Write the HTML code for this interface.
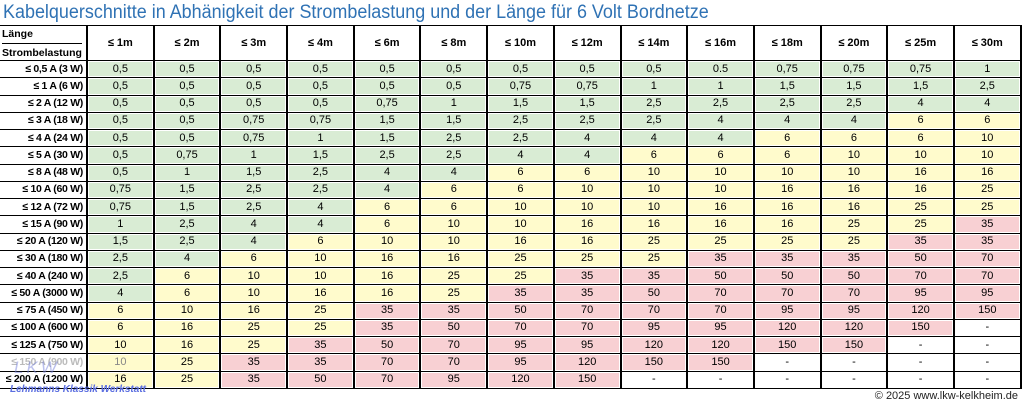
<!DOCTYPE html>
<html><head><meta charset="utf-8"><style>
body{margin:0;width:1024px;height:405px;background:#fff;position:relative;overflow:hidden;font-family:"Liberation Sans",Arial,sans-serif;}
.t{position:absolute;left:3px;top:2px;font-size:19px;color:#2f72b4;white-space:nowrap;transform-origin:0 0;transform:scaleX(0.945);}
table{position:absolute;left:0;top:25px;border-collapse:collapse;table-layout:fixed;width:1021px;}
td{border-top:1px solid #000;border-bottom:1px solid #000;border-left:2px solid #000;border-right:2px solid #000;height:16.26px;padding:0;text-align:center;font-size:11px;line-height:15px;color:#000;box-shadow:inset 0 0 0 1px #fff;white-space:nowrap;overflow:hidden;}
tr.h td{height:34px;font-weight:bold;}
td.l{text-align:right;font-weight:bold;padding-right:3px;border-left:none;font-size:10.5px;letter-spacing:-0.3px;}
.g{background:#d9ecd4}.y{background:#fffbcc}.r{background:#f8d0d3}
.hd{position:relative;text-align:left!important;}
.hd div{position:absolute;left:2px;font-size:10.5px;}
.cp{position:absolute;right:6px;top:390px;font-size:11px;color:#222;}
.wm{position:absolute;left:10px;top:384px;font-size:10px;font-style:italic;font-weight:bold;color:#5b6ee0;}
.wm2{position:absolute;left:14px;top:358px;font-size:17px;font-style:italic;color:rgba(120,130,220,.5);letter-spacing:3px;}
</style></head><body>
<div class="t">Kabelquerschnitte in Abhänigkeit der Strombelastung und der Länge für 6 Volt Bordnetze</div>
<table>
<colgroup><col style="width:87px"><col span="14" style="width:66.7px"></colgroup>
<tr class="h"><td class="hd" style="border-left:none"><div style="top:1px">Länge</div><div style="top:17px;border-top:1px solid #000;width:80px;padding-top:2px">Strombelastung</div></td><td>≤ 1m</td><td>≤ 2m</td><td>≤ 3m</td><td>≤ 4m</td><td>≤ 6m</td><td>≤ 8m</td><td>≤ 10m</td><td>≤ 12m</td><td>≤ 14m</td><td>≤ 16m</td><td>≤ 18m</td><td>≤ 20m</td><td>≤ 25m</td><td>≤ 30m</td></tr>
<tr><td class="l">≤ 0,5 A (3 W)</td><td class="g">0,5</td><td class="g">0,5</td><td class="g">0,5</td><td class="g">0,5</td><td class="g">0,5</td><td class="g">0,5</td><td class="g">0,5</td><td class="g">0,5</td><td class="g">0,5</td><td class="g">0.5</td><td class="g">0,75</td><td class="g">0,75</td><td class="g">0,75</td><td class="g">1</td></tr>
<tr><td class="l">≤ 1 A (6 W)</td><td class="g">0,5</td><td class="g">0,5</td><td class="g">0,5</td><td class="g">0,5</td><td class="g">0,5</td><td class="g">0,5</td><td class="g">0,75</td><td class="g">0,75</td><td class="g">1</td><td class="g">1</td><td class="g">1,5</td><td class="g">1,5</td><td class="g">1,5</td><td class="g">2,5</td></tr>
<tr><td class="l">≤ 2 A (12 W)</td><td class="g">0,5</td><td class="g">0,5</td><td class="g">0,5</td><td class="g">0,5</td><td class="g">0,75</td><td class="g">1</td><td class="g">1,5</td><td class="g">1,5</td><td class="g">2,5</td><td class="g">2,5</td><td class="g">2,5</td><td class="g">2,5</td><td class="g">4</td><td class="g">4</td></tr>
<tr><td class="l">≤ 3 A (18 W)</td><td class="g">0,5</td><td class="g">0,5</td><td class="g">0,75</td><td class="g">0,75</td><td class="g">1,5</td><td class="g">1,5</td><td class="g">2,5</td><td class="g">2,5</td><td class="g">2,5</td><td class="g">4</td><td class="g">4</td><td class="g">4</td><td class="y">6</td><td class="y">6</td></tr>
<tr><td class="l">≤ 4 A (24 W)</td><td class="g">0,5</td><td class="g">0,5</td><td class="g">0,75</td><td class="g">1</td><td class="g">1,5</td><td class="g">2,5</td><td class="g">2,5</td><td class="g">4</td><td class="g">4</td><td class="g">4</td><td class="y">6</td><td class="y">6</td><td class="y">6</td><td class="y">10</td></tr>
<tr><td class="l">≤ 5 A (30 W)</td><td class="g">0,5</td><td class="g">0,75</td><td class="g">1</td><td class="g">1,5</td><td class="g">2,5</td><td class="g">2,5</td><td class="g">4</td><td class="g">4</td><td class="y">6</td><td class="y">6</td><td class="y">6</td><td class="y">10</td><td class="y">10</td><td class="y">10</td></tr>
<tr><td class="l">≤ 8 A (48 W)</td><td class="g">0,5</td><td class="g">1</td><td class="g">1,5</td><td class="g">2,5</td><td class="g">4</td><td class="g">4</td><td class="y">6</td><td class="y">6</td><td class="y">10</td><td class="y">10</td><td class="y">10</td><td class="y">10</td><td class="y">16</td><td class="y">16</td></tr>
<tr><td class="l">≤ 10 A (60 W)</td><td class="g">0,75</td><td class="g">1,5</td><td class="g">2,5</td><td class="g">2,5</td><td class="g">4</td><td class="y">6</td><td class="y">6</td><td class="y">10</td><td class="y">10</td><td class="y">10</td><td class="y">16</td><td class="y">16</td><td class="y">16</td><td class="y">25</td></tr>
<tr><td class="l">≤ 12 A (72 W)</td><td class="g">0,75</td><td class="g">1,5</td><td class="g">2,5</td><td class="g">4</td><td class="y">6</td><td class="y">6</td><td class="y">10</td><td class="y">10</td><td class="y">10</td><td class="y">16</td><td class="y">16</td><td class="y">16</td><td class="y">25</td><td class="y">25</td></tr>
<tr><td class="l">≤ 15 A (90 W)</td><td class="g">1</td><td class="g">2,5</td><td class="g">4</td><td class="g">4</td><td class="y">6</td><td class="y">10</td><td class="y">10</td><td class="y">16</td><td class="y">16</td><td class="y">16</td><td class="y">16</td><td class="y">25</td><td class="y">25</td><td class="r">35</td></tr>
<tr><td class="l">≤ 20 A (120 W)</td><td class="g">1,5</td><td class="g">2,5</td><td class="g">4</td><td class="y">6</td><td class="y">10</td><td class="y">10</td><td class="y">16</td><td class="y">16</td><td class="y">25</td><td class="y">25</td><td class="y">25</td><td class="y">25</td><td class="r">35</td><td class="r">35</td></tr>
<tr><td class="l">≤ 30 A (180 W)</td><td class="g">2,5</td><td class="g">4</td><td class="y">6</td><td class="y">10</td><td class="y">16</td><td class="y">16</td><td class="y">25</td><td class="y">25</td><td class="y">25</td><td class="r">35</td><td class="r">35</td><td class="r">35</td><td class="r">50</td><td class="r">70</td></tr>
<tr><td class="l">≤ 40 A (240 W)</td><td class="g">2,5</td><td class="y">6</td><td class="y">10</td><td class="y">10</td><td class="y">16</td><td class="y">25</td><td class="y">25</td><td class="r">35</td><td class="r">35</td><td class="r">50</td><td class="r">50</td><td class="r">50</td><td class="r">70</td><td class="r">70</td></tr>
<tr><td class="l">≤ 50 A (3000 W)</td><td class="g">4</td><td class="y">6</td><td class="y">10</td><td class="y">16</td><td class="y">16</td><td class="y">25</td><td class="r">35</td><td class="r">35</td><td class="r">50</td><td class="r">70</td><td class="r">70</td><td class="r">70</td><td class="r">95</td><td class="r">95</td></tr>
<tr><td class="l">≤ 75 A (450 W)</td><td class="y">6</td><td class="y">10</td><td class="y">16</td><td class="y">25</td><td class="r">35</td><td class="r">35</td><td class="r">50</td><td class="r">70</td><td class="r">70</td><td class="r">70</td><td class="r">95</td><td class="r">95</td><td class="r">120</td><td class="r">150</td></tr>
<tr><td class="l">≤ 100 A (600 W)</td><td class="y">6</td><td class="y">16</td><td class="y">25</td><td class="y">25</td><td class="r">35</td><td class="r">50</td><td class="r">70</td><td class="r">70</td><td class="r">95</td><td class="r">95</td><td class="r">120</td><td class="r">120</td><td class="r">150</td><td>-</td></tr>
<tr><td class="l">≤ 125 A (750 W)</td><td class="y">10</td><td class="y">16</td><td class="y">25</td><td class="r">35</td><td class="r">50</td><td class="r">70</td><td class="r">95</td><td class="r">95</td><td class="r">120</td><td class="r">120</td><td class="r">150</td><td class="r">150</td><td>-</td><td>-</td></tr>
<tr><td class="l" style="color:#bbb">≤ 150 A (900 W)</td><td class="y" style="color:#888">10</td><td class="y">25</td><td class="r">35</td><td class="r">35</td><td class="r">70</td><td class="r">70</td><td class="r">95</td><td class="r">120</td><td class="r">150</td><td class="r">150</td><td>-</td><td>-</td><td>-</td><td>-</td></tr>
<tr><td class="l">≤ 200 A (1200 W)</td><td class="y">16</td><td class="y">25</td><td class="r">35</td><td class="r">50</td><td class="r">70</td><td class="r">95</td><td class="r">120</td><td class="r">150</td><td>-</td><td>-</td><td>-</td><td>-</td><td>-</td><td>-</td></tr>
</table>
<div class="wm2">LKW</div>
<div class="wm">Lehmanns Klassik Werkstatt</div>
<div class="cp">© 2025 www.lkw-kelkheim.de</div>
</body></html>
